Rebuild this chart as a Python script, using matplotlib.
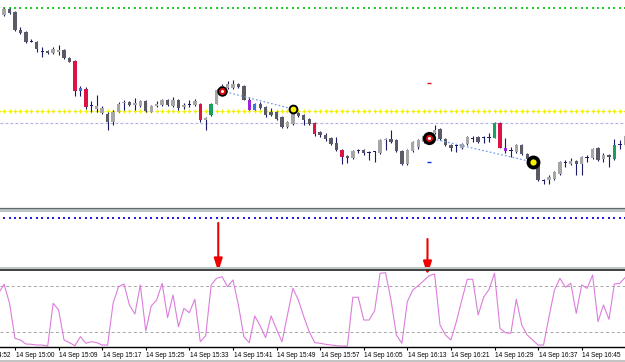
import numpy as np
import matplotlib
matplotlib.use('Agg')
import matplotlib.pyplot as plt
from matplotlib.patches import Rectangle
from matplotlib.lines import Line2D
import matplotlib.transforms as mtransforms

plt.rcParams['font.family'] = ['Liberation Sans Narrow', 'Liberation Sans', 'DejaVu Sans']
plt.rcParams['lines.scale_dashes'] = False

# ---------------- data ----------------
bars = list(range(-3, 113))

opens = [285, 285, 291, 288, 270, 268, 259, 258, 249, 249,
         247, 248, 250, 242, 239, 209, 211.5, 194.5, 191, 187,
         186.5, 178.5, 188.5, 197, 198, 195, 194, 199, 188.5, 194,
         195, 200.5, 194, 200, 193.5, 196, 195, 196.5, 180, 185,
         196.5, 209, 212, 212.5, 216.5, 214, 200.5, 190.5, 196.5, 193.5,
         188.5, 188.5, 183.5, 173.5, 176.5, 187.5, 185, 181.5, 177.5, 168.5,
         165, 162.5, 157, 150.5, 144, 142.5, 149.5, 150.5, 148, 148.5,
         147.5, 160.5, 161.5, 160, 149.5, 136.5, 149.5, 153, 158, 161,
         167.5, 171, 161.5, 155.5, 155, 152.5, 156, 161.5, 163.5, 162.5,
         162.5, 162.5, 177.5, 152.5, 149.5, 148.5, 155, 146, 142, 138.5,
         120, 120, 121.5, 126.5, 138, 136.5, 139, 136.5, 142.5, 142.5,
         152.5, 141, 145.5, 141, 156, 155]
closes = [290, 291, 287, 270, 267, 258, 258.5, 251, 248.5, 247,
          251, 250, 242, 238.5, 209.5, 212.5, 193.5, 194, 194.5, 192.5,
          178.5, 188.5, 196.5, 198, 195, 197, 199.5, 189, 194, 196.5,
          200.5, 195, 200.5, 192.5, 195.5, 195.5, 199.5, 180, 182, 196.5,
          210, 214, 216.5, 216.5, 213.5, 200.5, 190.5, 196.5, 192.5, 185,
          185.5, 181.5, 173.5, 178.5, 190, 184, 180.5, 176.5, 166.5, 165,
          161.5, 156.5, 150.5, 143.5, 142, 149, 149, 147.5, 147.5, 148,
          160, 161, 158.5, 149.5, 136.5, 150.5, 158, 160, 164, 167,
          170.5, 161, 155, 152, 154.5, 156, 163.5, 161, 158.5, 162,
          162, 177.5, 152.5, 149.5, 149, 155, 146.5, 141.5, 138, 120,
          119.5, 123.5, 128, 138.5, 137.5, 139, 136.5, 143.5, 142, 151.5,
          140.5, 145, 143.5, 155.5, 155.5, 164.5]
highs = [291, 292, 292, 289, 273, 269, 261, 259.5, 253, 250,
         253, 255, 251, 243, 240, 214, 213.5, 199, 205, 194,
         188, 190, 198.5, 200.5, 199, 202.5, 200.5, 200, 195, 199.5,
         201.5, 201.5, 203.5, 201, 197, 200, 201.5, 197.5, 183, 197.5,
         211, 216, 219, 220, 217.5, 215, 203.5, 197.5, 198.5, 194.5,
         192.5, 189.5, 184.5, 179.5, 192, 188.5, 186, 182.5, 178.5, 169.5,
         167, 163.5, 163.5, 151.5, 145, 150, 151.5, 151.5, 149, 149,
         161, 162.5, 170, 161, 150.5, 151.5, 159, 161, 165, 168,
         175, 172, 162.5, 156.5, 156, 157, 164.5, 164.5, 164.5, 164,
         167, 178, 178, 162, 153.5, 156, 156, 147, 144, 139.5,
         121.5, 125, 129, 139.5, 140, 142.5, 140, 144.5, 145, 152.5,
         153.5, 147.5, 146.5, 161, 160, 165.5]
lows = [284, 284, 286, 269, 266, 257, 258, 248.5, 243, 246,
        246, 245, 241, 238, 204.5, 204.5, 191, 188.5, 188.5, 186,
        170, 175, 188, 190.5, 194, 190.5, 193, 188, 188, 193,
        194, 194, 193, 190.5, 191.5, 193, 194, 178, 170, 184,
        196, 208, 211, 211.5, 212.5, 200, 190, 190, 191.5, 183.5,
        184, 180.5, 172.5, 172.5, 175, 183, 175.5, 175.5, 164, 163.5,
        159, 155.5, 149.5, 136.5, 137.5, 141.5, 147, 145, 140, 138.5,
        146.5, 150, 157.5, 148.5, 135.5, 135.5, 148.5, 151.5, 157, 160,
        166.5, 160, 154, 149, 148, 151.5, 155, 158.5, 157.5, 157,
        158.5, 162, 152, 147, 143.5, 147.5, 145.5, 140.5, 137, 119,
        116.5, 116.5, 120.5, 125.5, 133.5, 135.5, 125, 125, 138.5, 141.5,
        139.5, 138.5, 133.5, 140, 151.5, 154]
# candle style class: L light, D dark, N doji, R crimson, G green, B blue, P purple
kinds = ['L', 'L', 'D', 'D', 'D', 'D', 'N', 'D', 'N', 'D',
         'L', 'L', 'D', 'D', 'R', 'B', 'R', 'N', 'L', 'L',
         'D', 'L', 'L', 'L', 'D', 'L', 'L', 'D', 'L', 'L',
         'L', 'D', 'L', 'D', 'L', 'N', 'L', 'R', 'L', 'G',
         'L', 'L', 'L', 'L', 'D', 'D', 'P', 'B', 'D', 'D',
         'D', 'D', 'D', 'L', 'L', 'D', 'D', 'D', 'R', 'D',
         'D', 'D', 'D', 'R', 'D', 'L', 'N', 'D', 'N', 'N',
         'L', 'L', 'D', 'D', 'D', 'L', 'L', 'L', 'L', 'L',
         'L', 'D', 'D', 'D', 'N', 'L', 'L', 'N', 'D', 'N',
         'N', 'G', 'R', 'P', 'N', 'L', 'D', 'D', 'D', 'D',
         'N', 'L', 'L', 'L', 'N', 'L', 'D', 'L', 'N', 'L',
         'D', 'L', 'D', 'G', 'N', 'L']

stoch = [71.1, 82.5, 57.5, 11.4, 9.2, 3.9, 3.6, 2.6, 2.6, 1.3,
         57.5, 48.7, 9.2, 5.7, 1.7, 13.6, 4.9, 7.0, 5.7, 2.6,
         2.6, 57.5, 79.3, 82.9, 55.3, 43.4, 81.6, 21.1, 53.9, 61.8,
         83.8, 38.6, 68.4, 26.7, 50.9, 45.1, 62.8, 7.0, 14.9, 81.6,
         90.4, 92.5, 79.3, 88.2, 55.3, 13.6, 5.7, 40.8, 27.6, 12.2,
         40.8, 23.3, 7.0, 42.1, 77.2, 61.8, 39.9, 20.1, 5.7, 4.9,
         3.6, 2.6, 1.7, 1.3, 1.3, 65.4, 65.4, 35.5, 35.5, 47.8,
         97.0, 97.8, 61.8, 15.8, 4.9, 59.6, 75.0, 80.7, 87.2, 93.8,
         96.1, 28.9, 15.8, 9.2, 33.3, 61.8, 89.1, 89.1, 42.1, 65.4,
         75.9, 97.0, 24.6, 18.8, 18.0, 62.8, 28.9, 15.8, 9.2, 2.6,
         2.6, 39.9, 75.0, 90.4, 78.6, 83.8, 44.3, 81.6, 77.2, 94.7,
         33.3, 55.3, 36.4, 82.9, 83.8, 91.7]

level_green = 292
level_yellow = 189
level_lavender = 176.7
stoch_levels = [80, 20]

# signals: (bar, price)
sell_signals = [(38, 209), (76, 162)]
buy_signals = [(51, 191), (95, 138)]
trend_links = [((38, 209), (51, 191)), ((76, 162), (95, 138))]
red_dash = (76, 216.7)
blue_dash = (76, 137.7)
arrow_bars = [37.3, 75.7]

tick_bars = list(range(-8, 105, 8))
tick_labels = ['14 Sep 14:52', '14 Sep 15:00', '14 Sep 15:09', '14 Sep 15:17',
               '14 Sep 15:25', '14 Sep 15:33', '14 Sep 15:41', '14 Sep 15:49',
               '14 Sep 15:57', '14 Sep 16:05', '14 Sep 16:13', '14 Sep 16:21',
               '14 Sep 16:29', '14 Sep 16:37', '14 Sep 16:45']

assert len(opens) == len(closes) == len(highs) == len(lows) == len(kinds) == len(stoch) == len(bars)

# ---------------- figure ----------------
W, H = 625, 362
fig = plt.figure(figsize=(W / 100, H / 100), dpi=100)
fig.patch.set_facecolor('white')

def fy(y):
    return 1 - y / H

ax_p = fig.add_axes([0, fy(208), 1, 208 / H])
ax_m = fig.add_axes([0, fy(267), 1, (267 - 212) / H])
ax_o = fig.add_axes([0, fy(347), 1, (347 - 271) / H])

px = 5.449
xlo, xhi = -15 / px, (W - 15) / px
for ax in (ax_p, ax_m, ax_o):
    ax.set_xlim(xlo, xhi)
    for s in ax.spines.values():
        s.set_visible(False)
    ax.set_yticks([])
    ax.set_facecolor('white')
ax_p.set_xticks([])
ax_m.set_xticks([])

# ---------------- price panel ----------------
ax_p.set_ylim(92, 300)
x = np.array(bars)
o = np.array(opens); c = np.array(closes)
hi = np.array(highs); lo = np.array(lows)
cmap = {'L': '#a6a6a6', 'D': '#5b5b66', 'N': '#1e1e6e', 'R': '#dc1446',
        'G': '#18a060', 'B': '#3a78e0', 'P': '#a020e0'}
wick = '#1a1a66'
ax_p.vlines(x, lo, hi, color=wick, lw=0.8, zorder=2)
bottoms = np.minimum(o, c)
heights = np.maximum(np.abs(c - o), 0.9)
ax_p.bar(x, heights, bottom=bottoms, width=0.62,
         color=[cmap[k] for k in kinds], linewidth=0, zorder=3)

ax_p.plot(x, [level_green] * len(x), ls='none', marker='s', ms=1.5,
          color='#1fd01f', mew=0, zorder=1)
ax_p.plot(x, [level_yellow] * len(x), ls='none', marker='+', ms=2.4,
          color='#f0f000', mew=0.9, zorder=1)
ax_p.axhline(level_lavender, color='#aeb0e6', lw=0.8, dashes=(2.0, 1.6), zorder=1)

for (b1, p1), (b2, p2) in trend_links:
    ax_p.plot([b1, b2], [p1, p2], color='#6f9be8', lw=0.9, dashes=(1.2, 1.6), zorder=4)

# sell signals (red ring, white centre, black outline)
ax_p.plot(*sell_signals[0], marker='o', ms=7.5, color='black', mew=0, zorder=6)
ax_p.plot(*sell_signals[0], marker='o', ms=5.0, color='#e01010', mew=0, zorder=7)
ax_p.plot(*sell_signals[0], marker='o', ms=2.2, color='white', mew=0, zorder=8)
ax_p.plot(*sell_signals[1], marker='o', ms=9.5, color='black', mew=0, zorder=6)
ax_p.plot(*sell_signals[1], marker='o', ms=5.0, color='#e01010', mew=0, zorder=7)
ax_p.plot(*sell_signals[1], marker='o', ms=2.2, color='white', mew=0, zorder=8)
# buy signals (yellow with black ring)
ax_p.plot(*buy_signals[0], marker='o', ms=7.0, color='black', mew=0, zorder=6)
ax_p.plot(*buy_signals[0], marker='o', ms=4.2, color='#f8f000', mew=0, zorder=7)
ax_p.plot(*buy_signals[1], marker='o', ms=10.0, color='black', mew=0, zorder=6)
ax_p.plot(*buy_signals[1], marker='o', ms=4.5, color='#f8f000', mew=0, zorder=7)

ax_p.plot(*red_dash, marker='_', ms=3.5, mew=1.0, color='#e01010', zorder=5)
ax_p.plot(*blue_dash, marker='_', ms=3.5, mew=1.0, color='#1030e0', zorder=5)

# ---------------- middle panel ----------------
ax_m.set_ylim(0, 1)
ax_m.plot(x, [0.89] * len(x), ls='none', marker='s', ms=1.5, color='#2020e0', mew=0)

# ---------------- oscillator panel ----------------
ax_o.set_ylim(0, 100)
for lv in stoch_levels:
    ax_o.axhline(lv, color='#a8a8a8', lw=0.7, dashes=(2.2, 1.8))
ax_o.plot(x, stoch, color='#dc7ddc', lw=0.8)
ax_o.spines['bottom'].set_visible(True)
ax_o.spines['bottom'].set_color('black')
ax_o.spines['bottom'].set_linewidth(1.0)
vis_ticks = [t for t in tick_bars if xlo <= t <= xhi]
ax_o.set_xticks(vis_ticks)
ax_o.set_xticklabels([''] * len(vis_ticks))
ax_o.tick_params(axis='x', direction='out', length=2.5, width=0.8, color='black')
trans = mtransforms.blended_transform_factory(ax_o.transData, ax_o.transAxes)
for tb, tl in zip(tick_bars, tick_labels):
    ax_o.text(tb + 0.1, -0.06, tl, transform=trans, ha='left', va='top',
              fontsize=4.7, color='black', clip_on=False)

# arrows
for ab, (tip, start) in zip(arrow_bars, [(90, 139), (87, 123)]):
    ax_o.annotate('', xy=(ab, tip), xycoords=('data', 'figure pixels'),
                  xytext=(ab, start), textcoords=('data', 'figure pixels'),
                  arrowprops=dict(arrowstyle='-|>,head_length=0.8,head_width=0.25',
                                  color='#ee0000', lw=1.5, mutation_scale=10,
                                  shrinkA=0, shrinkB=0),
                  annotation_clip=False, zorder=10)

# ---------------- separators ----------------
fig.add_artist(Line2D([0, 1], [fy(208.5)] * 2, color='#5e6b6b', lw=0.9))
fig.add_artist(Rectangle((0, fy(212)), 1, 2.7 / H, color='#bcc6c6', lw=0))
fig.add_artist(Rectangle((0, fy(269.2)), 1, 2.2 / H, color='#bcc6c6', lw=0))
fig.add_artist(Line2D([0, 1], [fy(270.2)] * 2, color='#333333', lw=1.3))
fig.add_artist(Rectangle((0, 0), 1, 2.5 / H, color='#c4c4c4', lw=0))

fig.savefig('out.png', dpi=100, facecolor='white')
